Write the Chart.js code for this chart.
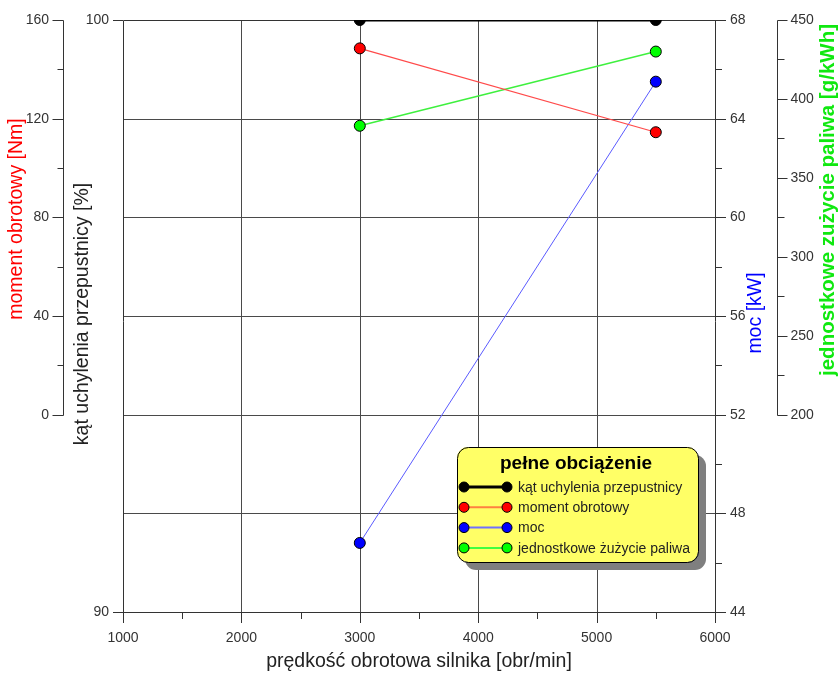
<!DOCTYPE html>
<html>
<head>
<meta charset="utf-8">
<script src="https://cdn.jsdelivr.net/npm/chart.js@4/dist/chart.umd.min.js"></script>
<style>
  html, body { margin: 0; padding: 0; background: #fff; }
  #wrap { width: 838px; height: 674px; }
</style>
</head>
<body>
<div id="wrap"><canvas id="c" width="838" height="674"></canvas></div>
<script>
// Engine speed [obr/min] of the two measured points
const rpm = [3000, 5500];
// Series values at full load
const katValues = [100, 100];          // kąt uchylenia przepustnicy [%]
const momentValues = [148.5, 114.5];   // moment obrotowy [Nm]
const mocValues = [46.8, 65.5];        // moc [kW]
const zuzycieValues = [383, 430];      // jednostkowe zużycie paliwa [g/kWh]

// Tick labels of each axis
const xTicks = [1000, 2000, 3000, 4000, 5000, 6000];
const katTicks = [90, 100];
const momentTicks = [0, 40, 80, 120, 160];
const mocTicks = [44, 48, 52, 56, 60, 64, 68];
const zuzycieTicks = [200, 250, 300, 350, 400, 450];

const seriesLabels = ['kąt uchylenia przepustnicy', 'moment obrotowy', 'moc', 'jednostkowe żużycie paliwa'];
const legendTitle = 'pełne obciążenie';

const FONT = '"Liberation Sans", Arial, sans-serif';
const TICK_COLOR = '#333';

function pts(values) { return rpm.map((x, i) => ({ x: x, y: values[i] })); }

function series(label, values, axis, line, fill, width) {
  return {
    label: label, data: pts(values), yAxisID: axis, xAxisID: 'x',
    borderColor: line, borderWidth: width,
    pointRadius: 5.5, pointHoverRadius: 5.5,
    pointBackgroundColor: fill, pointBorderColor: '#000', pointBorderWidth: 1,
    tension: 0, fill: false
  };
}

const datasets = [
  series(seriesLabels[0], katValues, 'yKat', '#000000', '#000000', 3),
  series(seriesLabels[1], momentValues, 'yMom', '#ff4a4a', '#ff0000', 1.2),
  series(seriesLabels[2], mocValues, 'yMoc', '#5a5aff', '#0000ff', 1),
  series(seriesLabels[3], zuzycieValues, 'yZuz', '#3ef03e', '#00ff00', 1.5)
];
const legendLine = ['#000000', '#ff8040', '#7070ff', '#40ff40'];

function crisp(v) { return Math.round(v) + 0.5; }

const axesPlugin = {
  id: 'axesPlugin',
  beforeDatasetsDraw(chart) {
    const { ctx, chartArea: a, scales } = chart;
    ctx.save();
    // grid
    ctx.strokeStyle = '#4a4a4a';
    ctx.lineWidth = 1;
    ctx.beginPath();
    mocTicks.slice(1, -1).forEach(v => {
      const y = crisp(scales.yMoc.getPixelForValue(v));
      ctx.moveTo(a.left, y); ctx.lineTo(a.right, y);
    });
    xTicks.slice(1, -1).forEach(v => {
      const x = crisp(scales.x.getPixelForValue(v));
      ctx.moveTo(x, a.top); ctx.lineTo(x, a.bottom);
    });
    ctx.stroke();
    // frame
    ctx.strokeStyle = '#333';
    ctx.beginPath();
    const l = crisp(a.left), r = crisp(a.right), t = crisp(a.top), b = crisp(a.bottom);
    ctx.moveTo(l, t); ctx.lineTo(r, t);
    ctx.moveTo(l, b); ctx.lineTo(r, b);
    ctx.moveTo(l, t); ctx.lineTo(l, b + 10);
    ctx.moveTo(r, t); ctx.lineTo(r, b + 10);
    ctx.stroke();
    ctx.restore();
  },
  afterDraw(chart) {
    const { ctx, chartArea: a, scales } = chart;
    ctx.save();
    ctx.strokeStyle = '#333';
    ctx.lineWidth = 1;
    ctx.fillStyle = TICK_COLOR;
    ctx.font = '14px ' + FONT;

    // x axis ticks and labels
    ctx.beginPath();
    for (let v = 1500; v < 6000; v += 1000) {
      const x = crisp(scales.x.getPixelForValue(v));
      ctx.moveTo(x, a.bottom); ctx.lineTo(x, a.bottom + 7);
    }
    xTicks.forEach(v => {
      const x = crisp(scales.x.getPixelForValue(v));
      ctx.moveTo(x, a.bottom); ctx.lineTo(x, a.bottom + 11);
    });
    ctx.stroke();
    ctx.textAlign = 'center'; ctx.textBaseline = 'middle';
    xTicks.forEach(v => ctx.fillText(String(v), scales.x.getPixelForValue(v), a.bottom + 26));

    // kąt axis (frame left side)
    ctx.beginPath();
    katTicks.forEach(v => {
      const y = crisp(scales.yKat.getPixelForValue(v));
      ctx.moveTo(a.left - 10, y); ctx.lineTo(a.left, y);
    });
    ctx.stroke();
    ctx.textAlign = 'right';
    katTicks.forEach(v => ctx.fillText(String(v), a.left - 14, scales.yKat.getPixelForValue(v)));

    // moment axis (outer left)
    const mx = crisp(63);
    const m0 = scales.yMom.getPixelForValue(0), m1 = scales.yMom.getPixelForValue(160);
    ctx.beginPath();
    ctx.moveTo(mx, crisp(m1)); ctx.lineTo(mx, crisp(m0));
    momentTicks.forEach(v => {
      const y = crisp(scales.yMom.getPixelForValue(v));
      ctx.moveTo(mx - 11, y); ctx.lineTo(mx, y);
    });
    for (let v = 20; v < 160; v += 40) {
      const y = crisp(scales.yMom.getPixelForValue(v));
      ctx.moveTo(mx - 6, y); ctx.lineTo(mx, y);
    }
    ctx.stroke();
    momentTicks.forEach(v => ctx.fillText(String(v), 49, scales.yMom.getPixelForValue(v)));

    // moc axis (frame right side)
    ctx.beginPath();
    mocTicks.forEach(v => {
      const y = crisp(scales.yMoc.getPixelForValue(v));
      ctx.moveTo(a.right, y); ctx.lineTo(a.right + 11, y);
    });
    for (let v = 46; v < 68; v += 4) {
      const y = crisp(scales.yMoc.getPixelForValue(v));
      ctx.moveTo(a.right, y); ctx.lineTo(a.right + 7, y);
    }
    ctx.stroke();
    ctx.textAlign = 'left';
    mocTicks.forEach(v => ctx.fillText(String(v), a.right + 15, scales.yMoc.getPixelForValue(v)));

    // zużycie axis (outer right)
    const zx = crisp(777);
    const z0 = scales.yZuz.getPixelForValue(200), z1 = scales.yZuz.getPixelForValue(450);
    ctx.beginPath();
    ctx.moveTo(zx, crisp(z1)); ctx.lineTo(zx, crisp(z0));
    zuzycieTicks.forEach(v => {
      const y = crisp(scales.yZuz.getPixelForValue(v));
      ctx.moveTo(zx, y); ctx.lineTo(zx + 10, y);
    });
    for (let v = 225; v < 450; v += 50) {
      const y = crisp(scales.yZuz.getPixelForValue(v));
      ctx.moveTo(zx, y); ctx.lineTo(zx + 7, y);
    }
    ctx.stroke();
    zuzycieTicks.forEach(v => ctx.fillText(String(v), zx + 13, scales.yZuz.getPixelForValue(v)));

    // axis titles
    ctx.textAlign = 'center'; ctx.textBaseline = 'middle';
    ctx.fillStyle = '#222';
    ctx.font = '19.5px ' + FONT;
    ctx.fillText('prędkość obrotowa silnika [obr/min]', (a.left + a.right) / 2, 662);
    function vtext(txt, x, y, color, font) {
      ctx.save();
      ctx.translate(x, y); ctx.rotate(-Math.PI / 2);
      ctx.fillStyle = color; ctx.font = font;
      ctx.fillText(txt, 0, 0);
      ctx.restore();
    }
    vtext('moment obrotowy [Nm]', 17, 219, '#ff0000', '19.5px ' + FONT);
    vtext('kąt uchylenia przepustnicy [%]', 83, 314, '#222', '19.5px ' + FONT);
    vtext('moc [kW]', 756, 313, '#0000ff', '19.5px ' + FONT);
    vtext('jednostkowe zużycie paliwa [g/kWh]', 828, 200, '#10e810', 'bold 20.5px ' + FONT);

    // legend box
    const bx = 457, by = 447, bw = 241, bh = 115, rad = 11;
    function rrect(x, y, w, h, r) {
      ctx.beginPath();
      ctx.moveTo(x + r, y);
      ctx.arcTo(x + w, y, x + w, y + h, r);
      ctx.arcTo(x + w, y + h, x, y + h, r);
      ctx.arcTo(x, y + h, x, y, r);
      ctx.arcTo(x, y, x + w, y, r);
      ctx.closePath();
    }
    ctx.fillStyle = '#7f7f7f';
    rrect(bx + 8, by + 8, bw, bh, rad); ctx.fill();
    ctx.fillStyle = '#ffff66';
    rrect(bx, by, bw, bh, rad); ctx.fill();
    ctx.strokeStyle = '#000'; ctx.lineWidth = 1;
    rrect(bx + 0.5, by + 0.5, bw, bh, rad); ctx.stroke();

    ctx.fillStyle = '#000';
    ctx.font = 'bold 19px ' + FONT;
    ctx.textAlign = 'center';
    ctx.fillText(legendTitle, 576, 464);

    ctx.font = '14px ' + FONT;
    ctx.textAlign = 'left';
    chart.data.datasets.forEach((ds, i) => {
      const y = 487 + i * 20.3;
      ctx.strokeStyle = legendLine[i];
      ctx.lineWidth = i === 0 ? 3 : 2;
      ctx.beginPath(); ctx.moveTo(464, y); ctx.lineTo(507, y); ctx.stroke();
      [464, 507].forEach(px => {
        ctx.beginPath(); ctx.arc(px, y, 5, 0, Math.PI * 2);
        ctx.fillStyle = ds.pointBackgroundColor; ctx.fill();
        ctx.lineWidth = 1; ctx.strokeStyle = '#000'; ctx.stroke();
      });
      ctx.fillStyle = '#222';
      ctx.fillText(ds.label, 518, y + 1);
    });
    ctx.restore();
  }
};

new Chart(document.getElementById('c'), {
  type: 'line',
  data: { datasets: datasets },
  options: {
    responsive: false,
    devicePixelRatio: 1,
    animation: false,
    layout: { padding: { left: 123, right: 123, top: 20, bottom: 62 } },
    plugins: { legend: { display: false }, tooltip: { enabled: false } },
    scales: {
      x: { type: 'linear', min: 1000, max: 6000, display: false },
      yKat: { type: 'linear', min: 90, max: 100, display: false },
      yMom: { type: 'linear', min: -80, max: 160, display: false },
      yMoc: { type: 'linear', min: 44, max: 68, display: false },
      yZuz: { type: 'linear', min: 75, max: 450, display: false }
    }
  },
  plugins: [axesPlugin]
});
</script>
</body>
</html>
